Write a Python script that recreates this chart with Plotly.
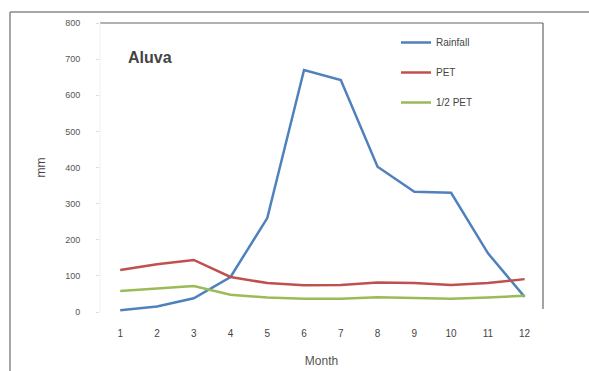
import plotly.graph_objects as go

months = [1, 2, 3, 4, 5, 6, 7, 8, 9, 10, 11, 12]
rainfall = [5, 15, 38, 97, 260, 670, 642, 402, 333, 330, 163, 42]
pet = [116, 132, 144, 97, 80, 74, 75, 82, 80, 75, 80, 91]
half_pet = [58, 66, 72, 48, 40, 37, 37, 41, 40, 37, 40, 45]
y_ticks = [0, 100, 200, 300, 400, 500, 600, 700, 800]

W, H = 589, 371
L, R, T, B = 100, 46, 23, 59
pw, ph = W - L - R, H - T - B


def px(x):
    return (x - L) / pw


def py(y):
    return (H - B - y) / ph


fig = go.Figure()
series = [("Rainfall", rainfall, "#4F81BD"), ("PET", pet, "#C0504D"), ("1/2 PET", half_pet, "#9BBB59")]
for name, vals, col in series:
    fig.add_trace(go.Scatter(x=months, y=vals, mode="lines", name=name, legendgroup=name,
                             line=dict(color=col, width=2.5)))

fig.update_layout(
    width=W, height=H,
    margin=dict(l=L, r=R, t=T, b=B),
    paper_bgcolor="white", plot_bgcolor="white",
    font=dict(family="Liberation Sans, Arial, sans-serif", color="#555"),
    legend=dict(x=px(396), y=py(28), xanchor="left", yanchor="top",
                font=dict(size=10, color="#444"), bgcolor="rgba(0,0,0,0)",
                traceorder="grouped", tracegroupgap=11, itemwidth=30),
    xaxis=dict(range=[0.45, 12.5], tickvals=months, showgrid=False, zeroline=False,
               showline=False, tickfont=dict(size=10, color="#444"), ticks="",
               ticklabelstandoff=14, automargin=False,
               title=dict(text="Month", font=dict(size=12, color="#555"), standoff=18)),
    yaxis=dict(range=[0, 800], tickvals=y_ticks, showgrid=False, zeroline=False,
               showline=False, tickfont=dict(size=9, color="#555"), ticks="outside",
               ticklen=3, tickcolor="#ddd", ticklabelstandoff=14, automargin=False,
               title=dict(text="mm", font=dict(size=12, color="#444"), standoff=16)),
    showlegend=True,
)

shapes = [
    # outer frame
    dict(type="line", xref="paper", yref="paper", x0=px(10), x1=px(589), y0=py(12), y1=py(12),
         line=dict(color="#888", width=1.5)),
    dict(type="line", xref="paper", yref="paper", x0=px(10), x1=px(10), y0=py(12), y1=py(371),
         line=dict(color="#888", width=1.5)),
    # plot area edges
    dict(type="line", xref="paper", yref="paper", x0=0, x1=1, y0=1, y1=1,
         line=dict(color="#666", width=1.2)),
    dict(type="line", xref="paper", yref="paper", x0=1, x1=1, y0=0.01, y1=1,
         line=dict(color="#666", width=1.2)),
    dict(type="line", xref="paper", yref="paper", x0=0, x1=0, y0=0, y1=1,
         line=dict(color="#eee", width=1)),
]
fig.update_layout(shapes=shapes)

fig.add_annotation(text="<b>Aluva</b>", xref="paper", yref="paper", x=px(126), y=py(57),
                   xanchor="left", yanchor="middle", showarrow=False,
                   font=dict(size=16, color="#444"))

fig.write_html("out.html")
